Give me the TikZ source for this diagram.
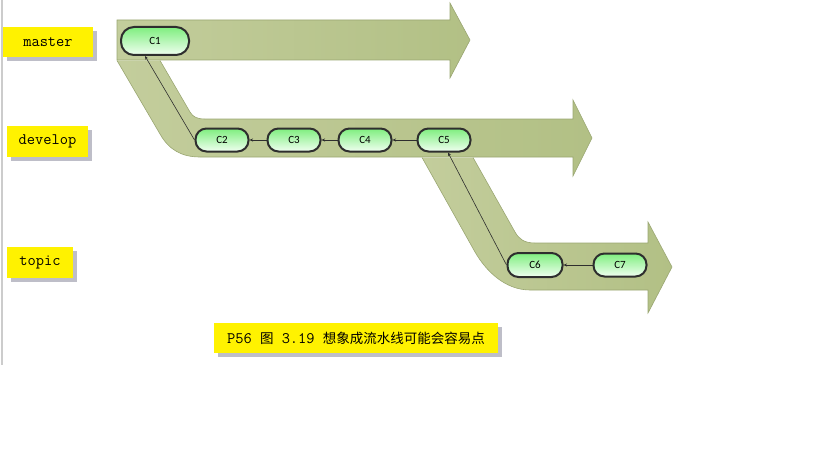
\documentclass[tikz,border=0pt]{standalone}
\usepackage{fontspec}
\setmainfont{Carlito}
\newfontfamily\cjk{Noto Sans CJK SC}
\usetikzlibrary{arrows.meta,shadows}
\definecolor{bandA}{HTML}{C3CD9C}
\definecolor{bandB}{HTML}{B2C085}
\definecolor{bandline}{HTML}{9AA672}
\definecolor{ctop}{HTML}{7FEE7F}
\definecolor{cbot}{HTML}{F0FFF0}
\definecolor{cline}{HTML}{2E2E2E}
\definecolor{shadowc}{HTML}{BEBEC8}
\newcommand{\cjktext}[1]{{\cjk\fontsize{13.5}{16}\selectfont #1}}
\begin{document}
\begin{tikzpicture}[x=1pt,y=-1pt,
 band/.style={draw=bandline, line width=0.6pt, left color=bandA, right color=bandB},
 commit/.style={draw=cline, line width=2pt, rounded corners=11pt, top color=ctop, bottom color=cbot, minimum width=53pt, minimum height=23pt, inner sep=0pt, font=\fontsize{11}{13}\selectfont},
 lbl/.style={fill=yellow, inner sep=0pt, font=\ttfamily\fontsize{16}{18}\selectfont, general shadow={fill=shadowc, shadow xshift=4pt, shadow yshift=-4pt}},
 link/.style={draw=cline, line width=0.6pt, -{Stealth[length=3.5pt,width=3pt]}}]
\useasboundingbox (0,0) rectangle (819,460);
\draw[line width=1.5pt, draw=gray!40] (2,0) -- (2,365);
% bands
\path[band] (117,20) -- (450,20) -- (450,3) -- (470,40) -- (450,78) -- (450,60) -- (117,60) -- cycle;
\path[band] (160,60.5) -- (190,112) .. controls (193,117) and (197,119) .. (205,119) -- (573,119) -- (573,100) -- (592,138) -- (573,176) -- (573,157) -- (200,157) .. controls (182,157) and (169,150) .. (160,134) -- (117,60.5);
\path[band] (473,157.5) -- (515,232) .. controls (519,239) and (524,243) .. (535,243) -- (648,243) -- (648,222) -- (672,267) -- (648,313) -- (648,290) -- (530,290) .. controls (505,290) and (486,271) .. (475,252) -- (422,157.5);
% commits
\node[commit, minimum width=68pt, minimum height=28pt, rounded corners=13pt] (C1) at (155,41) {C1};
\node[commit] (C2) at (222,140) {C2};
\node[commit] (C3) at (294,140) {C3};
\node[commit] (C4) at (365,140) {C4};
\node[commit] (C5) at (444,140) {C5};
\node[commit, minimum width=55pt, minimum height=24pt] (C6) at (535,265) {C6};
\node[commit] (C7) at (620,265) {C7};
% links
\draw[link] (C3.west) -- (C2.east);
\draw[link] (C4.west) -- (C3.east);
\draw[link] (C5.west) -- (C4.east);
\draw[link] (C7.west) -- (C6.east);
\draw[link] (C2.west) -- ([xshift=-10pt]C1.south);
\draw[link] (C6.west) -- ([xshift=4pt]C5.south);
% labels
\node[lbl, minimum width=90pt, minimum height=30pt] (master) at (48,42) {master};
\node[lbl, minimum width=81pt, minimum height=31pt] (develop) at (47.5,141.5) {develop};
\node[lbl, minimum width=66pt, minimum height=31pt] (topic) at (40,262.5) {topic};
\node[lbl, minimum width=284pt, minimum height=30pt] (cap) at (356,338) {P56~\cjktext{图}~3.19~\cjktext{想象成流水线可能会容易点}};
\end{tikzpicture}
\end{document}
